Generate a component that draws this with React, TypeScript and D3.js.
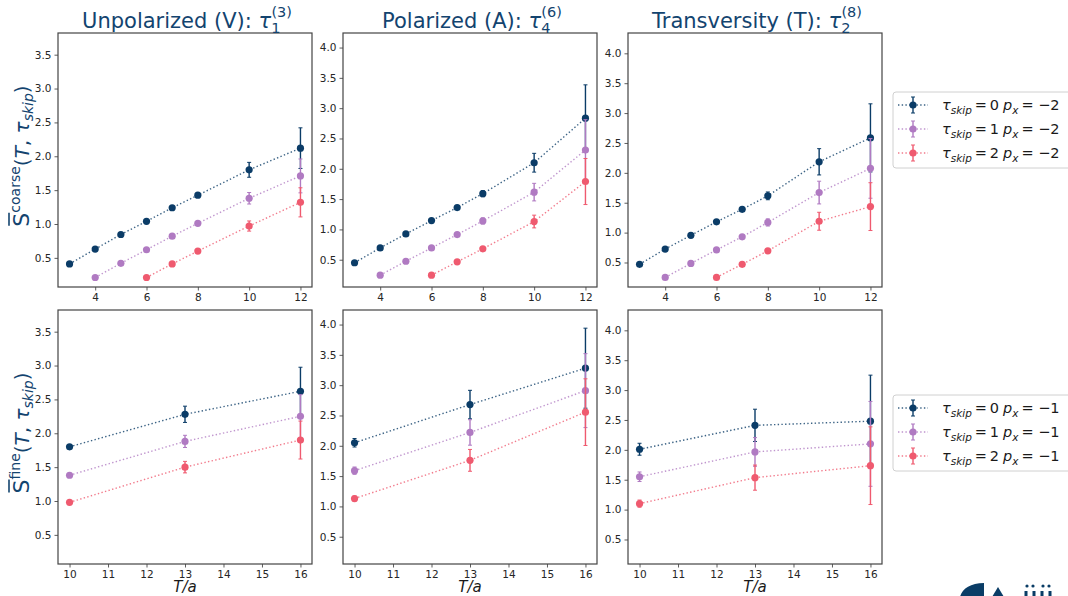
import React, { useEffect, useRef } from 'react';
import * as d3 from 'd3';

// x values (T/a)
const coarseT0 = [3, 4, 5, 6, 7, 8, 10, 12];
const coarseT1 = [4, 5, 6, 7, 8, 10, 12];
const coarseT2 = [6, 7, 8, 10, 12];
const fineT = [10, 13, 16];

// coarse row, p_x = -2
const vCoarse0 = [0.41, 0.63, 0.845, 1.04, 1.24, 1.425, 1.8, 2.12];
const vCoarseErr0 = [0.015, 0.015, 0.015, 0.015, 0.02, 0.025, 0.11, 0.3];
const vCoarse1 = [0.21, 0.42, 0.62, 0.82, 1.01, 1.38, 1.71];
const vCoarseErr1 = [0.01, 0.015, 0.015, 0.02, 0.025, 0.085, 0.25];
const vCoarse2 = [0.21, 0.41, 0.6, 0.97, 1.32];
const vCoarseErr2 = [0.01, 0.015, 0.02, 0.075, 0.215];

const aCoarse0 = [0.45, 0.695, 0.925, 1.145, 1.36, 1.59, 2.1, 2.835];
const aCoarseErr0 = [0.015, 0.015, 0.02, 0.02, 0.03, 0.05, 0.155, 0.55];
const aCoarse1 = [0.245, 0.475, 0.695, 0.915, 1.14, 1.615, 2.31];
const aCoarseErr1 = [0.01, 0.015, 0.02, 0.025, 0.05, 0.145, 0.5];
const aCoarse2 = [0.245, 0.465, 0.68, 1.13, 1.79];
const aCoarseErr2 = [0.01, 0.02, 0.025, 0.105, 0.38];

const tCoarse0 = [0.47, 0.725, 0.955, 1.18, 1.39, 1.615, 2.185, 2.585];
const tCoarseErr0 = [0.015, 0.015, 0.02, 0.02, 0.03, 0.065, 0.22, 0.57];
const tCoarse1 = [0.25, 0.485, 0.71, 0.93, 1.17, 1.67, 2.075];
const tCoarseErr1 = [0.01, 0.015, 0.02, 0.025, 0.06, 0.19, 0.5];
const tCoarse2 = [0.25, 0.47, 0.695, 1.19, 1.435];
const tCoarseErr2 = [0.01, 0.02, 0.025, 0.15, 0.4];

// fine row, p_x = -1
const vFine0 = [1.8, 2.28, 2.62];
const vFineErr0 = [0.03, 0.12, 0.355];
const vFine1 = [1.38, 1.88, 2.25];
const vFineErr1 = [0.03, 0.09, 0.32];
const vFine2 = [0.98, 1.5, 1.9];
const vFineErr2 = [0.02, 0.085, 0.28];

const aFine0 = [2.05, 2.68, 3.28];
const aFineErr0 = [0.07, 0.235, 0.66];
const aFine1 = [1.59, 2.22, 2.91];
const aFineErr1 = [0.06, 0.21, 0.61];
const aFine2 = [1.13, 1.76, 2.555];
const aFineErr2 = [0.04, 0.18, 0.55];

const tFine0 = [2.01, 2.41, 2.48];
const tFineErr0 = [0.1, 0.27, 0.77];
const tFine1 = [1.55, 1.965, 2.1];
const tFineErr1 = [0.08, 0.24, 0.71];
const tFine2 = [1.1, 1.535, 1.735];
const tFineErr2 = [0.06, 0.21, 0.65];

const titles = [
  { main: 'Unpolarized (V): ', sub: '1', sup: '(3)' },
  { main: 'Polarized (A): ', sub: '4', sup: '(6)' },
  { main: 'Transversity (T): ', sub: '2', sup: '(8)' },
];
const skipValues = [0, 1, 2];
const pxValues = ['\u22122', '\u22121'];
const coarseXTicks = [4, 6, 8, 10, 12];
const fineXTicks = [10, 11, 12, 13, 14, 15, 16];
const yTicksCol = [
  [0.5, 1.0, 1.5, 2.0, 2.5, 3.0, 3.5],
  [0.5, 1.0, 1.5, 2.0, 2.5, 3.0, 3.5, 4.0],
  [0.5, 1.0, 1.5, 2.0, 2.5, 3.0, 3.5, 4.0],
];
const yDomains = [
  [0.07, 3.82],
  [0.05, 4.24],
  [0.09, 4.34],
];
const coarseXDomain = [2.55, 12.45];
const fineXDomain = [9.7, 16.3];

const colors = ['#0b3c67', '#b07ac2', '#ef5a6f'];
const navy = '#13446f';

const coarseData = [
  [
    [coarseT0, vCoarse0, vCoarseErr0],
    [coarseT1, vCoarse1, vCoarseErr1],
    [coarseT2, vCoarse2, vCoarseErr2],
  ],
  [
    [coarseT0, aCoarse0, aCoarseErr0],
    [coarseT1, aCoarse1, aCoarseErr1],
    [coarseT2, aCoarse2, aCoarseErr2],
  ],
  [
    [coarseT0, tCoarse0, tCoarseErr0],
    [coarseT1, tCoarse1, tCoarseErr1],
    [coarseT2, tCoarse2, tCoarseErr2],
  ],
];
const fineData = [
  [
    [fineT, vFine0, vFineErr0],
    [fineT, vFine1, vFineErr1],
    [fineT, vFine2, vFineErr2],
  ],
  [
    [fineT, aFine0, aFineErr0],
    [fineT, aFine1, aFineErr1],
    [fineT, aFine2, aFineErr2],
  ],
  [
    [fineT, tFine0, tFineErr0],
    [fineT, tFine1, tFineErr1],
    [fineT, tFine2, tFineErr2],
  ],
];

const colLeft = [58, 343, 628];
const rowTop = [33, 310];
const panelW = 254;
const panelH = 254;

const App = () => {
  const ref = useRef<SVGSVGElement>(null);

  useEffect(() => {
    const svg = d3.select(ref.current);
    svg.selectAll('*').remove();
    svg.style('font-family', '"DejaVu Sans", sans-serif');

    const drawPanel = (col: number, row: number) => {
      const data = row === 0 ? coarseData[col] : fineData[col];
      const x = d3
        .scaleLinear()
        .domain(row === 0 ? coarseXDomain : fineXDomain)
        .range([0, panelW]);
      const y = d3.scaleLinear().domain(yDomains[col]).range([panelH, 0]);
      const g = svg
        .append('g')
        .attr('transform', `translate(${colLeft[col]},${rowTop[row]})`);

      g.append('rect')
        .attr('width', panelW)
        .attr('height', panelH)
        .attr('fill', 'white');

      // series
      data.forEach((s, si) => {
        const [xs, ys, es] = s as number[][];
        const pts = xs.map((t, i) => ({ t, v: ys[i], e: es[i] }));
        const line = d3
          .line<{ t: number; v: number }>()
          .x((d) => x(d.t))
          .y((d) => y(d.v));
        g.append('path')
          .datum(pts)
          .attr('d', line)
          .attr('fill', 'none')
          .attr('stroke', colors[si])
          .attr('stroke-width', 1.4)
          .attr('stroke-dasharray', '1.4,2.3')
          .attr('opacity', 0.8);
        const eg = g.append('g').attr('stroke', colors[si]).attr('stroke-width', 1.4);
        pts.forEach((d) => {
          eg.append('line')
            .attr('x1', x(d.t))
            .attr('x2', x(d.t))
            .attr('y1', y(d.v - d.e))
            .attr('y2', y(d.v + d.e));
          [d.v - d.e, d.v + d.e].forEach((c) => {
            eg.append('line')
              .attr('x1', x(d.t) - 2)
              .attr('x2', x(d.t) + 2)
              .attr('y1', y(c))
              .attr('y2', y(c))
              .attr('stroke-width', 1);
          });
        });
        g.append('g')
          .selectAll('circle')
          .data(pts)
          .enter()
          .append('circle')
          .attr('cx', (d) => x(d.t))
          .attr('cy', (d) => y(d.v))
          .attr('r', 3.6)
          .attr('fill', colors[si]);
      });

      // axes
      const xAxis = g
        .append('g')
        .attr('transform', `translate(0,${panelH})`)
        .call(
          d3
            .axisBottom(x)
            .tickValues(row === 0 ? coarseXTicks : fineXTicks)
            .tickSize(3.5)
            .tickPadding(3)
            .tickFormat(d3.format('d'))
        );
      const yAxis = g.append('g').call(
        d3
          .axisLeft(y)
          .tickValues(yTicksCol[col])
          .tickSize(3.5)
          .tickPadding(3)
          .tickFormat(d3.format('.1f'))
      );
      [xAxis, yAxis].forEach((a) => {
        a.select('.domain').remove();
        a.selectAll('line').attr('stroke', '#333').attr('stroke-width', 0.8);
        a.selectAll('text')
          .attr('font-size', 10.5)
          .attr('fill', '#262626')
          .attr('font-family', '"DejaVu Sans", sans-serif');
      });

      g.append('rect')
        .attr('width', panelW)
        .attr('height', panelH)
        .attr('fill', 'none')
        .attr('stroke', '#444')
        .attr('stroke-width', 1.2);

      if (row === 1) {
        g.append('text')
          .attr('x', panelW / 2)
          .attr('y', panelH + 28)
          .attr('text-anchor', 'middle')
          .attr('font-size', 15)
          .attr('font-style', 'italic')
          .attr('fill', '#1a1a1a')
          .text('T/a');
      }
    };

    for (let c = 0; c < 3; c++) {
      for (let r = 0; r < 2; r++) drawPanel(c, r);
    }

    // titles
    titles.forEach((t, i) => {
      const tx = svg
        .append('text')
        .attr('x', colLeft[i] + panelW / 2 + 2)
        .attr('y', 28)
        .attr('text-anchor', 'middle')
        .attr('font-size', 21)
        .attr('fill', navy);
      tx.append('tspan').text(t.main);
      tx.append('tspan').attr('font-style', 'italic').text('\u03c4');
      tx.append('tspan').attr('font-size', 14.5).attr('dy', 5).text(t.sub);
      tx.append('tspan')
        .attr('font-size', 14.5)
        .attr('dx', -9)
        .attr('dy', -16)
        .text(t.sup);
    });

    // y labels
    ['coarse', 'fine'].forEach((lvl, r) => {
      const cy = rowTop[r] + panelH / 2 - 4;
      const lg = svg
        .append('g')
        .attr('transform', `translate(29,${cy}) rotate(-90)`);
      const tx = lg
        .append('text')
        .attr('text-anchor', 'middle')
        .attr('font-size', 20)
        .attr('fill', navy);
      tx.append('tspan').attr('font-size', 22).text('S');
      tx.append('tspan').attr('font-size', 14).attr('dy', -9).text(lvl);
      tx.append('tspan').attr('dy', 9).text('(');
      tx.append('tspan').attr('font-style', 'italic').text('T');
      tx.append('tspan').text(', ');
      tx.append('tspan').attr('font-style', 'italic').text('\u03c4');
      tx.append('tspan')
        .attr('font-size', 14)
        .attr('font-style', 'italic')
        .attr('dy', 4)
        .text('skip');
      tx.append('tspan').attr('dy', -4).text(')');
      // overline on S
      const bb = (tx.node() as SVGTextElement).getBBox();
      lg.append('line')
        .attr('x1', bb.x + 1)
        .attr('x2', bb.x + 14)
        .attr('y1', -20)
        .attr('y2', -20)
        .attr('stroke', navy)
        .attr('stroke-width', 1.6);
    });

    // legends
    const legendTops = [92, 395];
    pxValues.forEach((px, li) => {
      const lg = svg.append('g').attr('transform', `translate(893,${legendTops[li]})`);
      lg.append('rect')
        .attr('width', 190)
        .attr('height', 76)
        .attr('rx', 3)
        .attr('fill', 'white')
        .attr('stroke', '#d0d0d0')
        .attr('stroke-width', 1);
      skipValues.forEach((sk, i) => {
        const ey = 13 + i * 24;
        lg.append('line')
          .attr('x1', 5)
          .attr('x2', 35)
          .attr('y1', ey)
          .attr('y2', ey)
          .attr('stroke', colors[i])
          .attr('stroke-width', 1.4)
          .attr('stroke-dasharray', '1.4,2.3')
          .attr('opacity', 0.8);
        lg.append('line')
          .attr('x1', 20)
          .attr('x2', 20)
          .attr('y1', ey - 8)
          .attr('y2', ey + 8)
          .attr('stroke', colors[i])
          .attr('stroke-width', 1.4);
        [-8, 8].forEach((o) => {
          lg.append('line')
            .attr('x1', 18)
            .attr('x2', 22)
            .attr('y1', ey + o)
            .attr('y2', ey + o)
            .attr('stroke', colors[i]);
        });
        lg.append('circle').attr('cx', 20).attr('cy', ey).attr('r', 3.6).attr('fill', colors[i]);
        const tx = lg
          .append('text')
          .attr('x', 49)
          .attr('y', ey + 5)
          .attr('font-size', 14.5)
          .attr('fill', '#1a1a1a');
        tx.append('tspan').attr('font-style', 'italic').text('\u03c4');
        tx.append('tspan')
          .attr('font-style', 'italic')
          .attr('font-size', 10.5)
          .attr('dy', 4)
          .text('skip');
        tx.append('tspan').attr('dy', -4).text(`\u2009=\u2009${sk}`);
        tx.append('tspan').attr('font-style', 'italic').attr('dx', 4).text('p');
        tx.append('tspan')
          .attr('font-style', 'italic')
          .attr('font-size', 10.5)
          .attr('dy', 4)
          .text('x');
        tx.append('tspan').attr('dy', -4).text(`\u2009= ${px}`);
      });
    });

    // partial logo at the bottom right
    const logo = svg.append('g').attr('fill', '#0a3d66');
    logo.append('path').attr('d', 'M960,597 C962,589 970,583 984,583 L984,597 Z');
    logo.append('path').attr('d', 'M992,597 L998,587 L1004,597 Z');
    [1027, 1033, 1043, 1049].forEach((lx) => {
      logo.append('circle').attr('cx', lx).attr('cy', 586).attr('r', 1.6);
    });
    [1026, 1034, 1042, 1050].forEach((lx) => {
      logo.append('rect').attr('x', lx - 1.5).attr('y', 591).attr('width', 3).attr('height', 6);
    });
  }, []);

  return (
    <svg
      ref={ref}
      width={1068}
      height={596}
      style={{ position: 'absolute', left: 0, top: 0, background: 'white' }}
    />
  );
};

export default App;
